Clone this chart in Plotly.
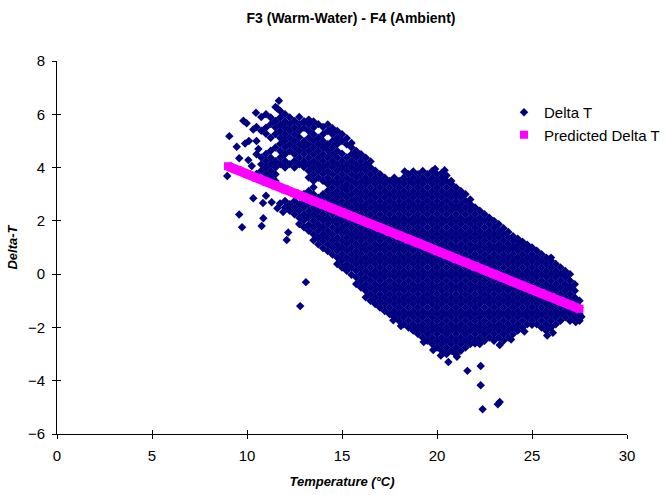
import plotly.graph_objects as go

# ---- Predicted Delta T (read along the magenta band) ----
pred_temp = [9.0, 9.5, 10.0, 10.5, 11.0, 11.5, 12.0, 12.5, 13.0, 13.5, 14.0, 14.5, 15.0, 15.5,
             16.0, 16.5, 17.0, 17.5, 18.0, 18.5, 19.0, 19.5, 20.0, 20.5, 21.0, 21.5, 22.0, 22.5,
             23.0, 23.5, 24.0, 24.5, 25.0, 25.5, 26.0, 26.5, 27.0, 27.5]
pred_delta = [4.05, 3.91, 3.76, 3.62, 3.47, 3.33, 3.18, 3.04, 2.89, 2.75, 2.61, 2.46, 2.32, 2.17,
              2.03, 1.88, 1.74, 1.59, 1.45, 1.30, 1.16, 1.02, 0.87, 0.73, 0.58, 0.44, 0.29, 0.15,
              0.00, -0.14, -0.29, -0.43, -0.57, -0.72, -0.86, -1.01, -1.15, -1.30]

# ---- Measured Delta T: dense cloud, estimated column by column (temperature, delta values) ----
cloud_cols = [
    (10.5, "3.76 4.5 5.0 5.52"),
    (10.75, "3.88 4.12 4.38 5.38 5.9"),
    (11.0, "3.75 4.0 4.25 4.51 5.27 5.5 6.0"),
    (11.25, "3.63 3.87 4.12 4.37 4.63 5.12 5.63 5.88"),
    (11.5, "3.5 3.75 4.0 4.24 4.75 5.26 5.5 5.75 6.27"),
    (11.75, "4.12 4.38 4.62 4.89 5.12 5.37 5.62 5.88 6.12"),
    (12.0, "2.5 2.75 4.0 4.25 4.5 4.76 5.0 5.25 5.5 5.74 6.0"),
    (12.25, "2.38 2.62 4.13 4.62 4.87 5.12 5.38 5.63 5.88"),
    (12.5, "2.25 2.5 2.75 4.0 4.25 4.5 4.75 5.0 5.25 5.5 5.75"),
    (12.75, "1.88 2.12 2.38 2.62 4.12 4.37 4.63 4.88 5.13 5.38 5.63 5.9"),
    (13.0, "1.76 2.02 2.24 2.51 2.74 3.01 4.02 4.24 4.51 4.76 4.99 5.49 5.74"),
    (13.25, "1.63 1.86 2.13 2.37 2.63 2.88 3.12 3.63 3.88 4.12 4.37 4.63 4.88 5.12 5.37 5.63 5.8"),
    (13.5, "1.27 1.5 1.76 2.0 2.25 2.49 2.75 3.0 3.26 3.5 3.75 4.0 4.24 4.5 4.75 5.01 5.25 5.5 5.73"),
    (13.75, "1.12 1.38 1.63 1.87 2.13 2.38 2.62 2.87 3.62 3.88 4.12 4.37 4.62 4.88 5.12 5.63"),
    (14.0, "0.98 1.25 1.5 1.75 2.01 2.25 2.5 2.75 3.0 3.5 3.76 4.0 4.25 4.49 4.75 5.0 5.25 5.52"),
    (14.25, "0.87 1.12 1.38 1.62 1.88 2.12 2.38 2.62 2.88 3.13 3.38 3.62 3.87 4.12 4.38 4.63 4.88 5.37 5.62"),
    (14.5, "0.74 1.0 1.25 1.5 1.75 2.0 2.26 2.5 2.75 3.0 3.25 3.49 3.75 4.0 4.25 4.5 4.75 5.0 5.25 5.48"),
    (14.75, "0.38 0.62 0.88 1.12 1.37 1.63 1.88 2.12 2.38 2.63 2.88 3.12 3.38 3.62 3.88 4.12 4.38 4.62 4.88 5.12 5.37"),
    (15.0, "0.25 0.5 0.75 1.0 1.25 1.51 1.75 2.0 2.25 2.5 2.75 3.0 3.25 3.5 3.75 4.0 4.25 4.52 5.0 5.25"),
    (15.25, "0.13 0.37 0.62 0.88 1.13 1.38 1.62 1.87 2.13 2.38 2.62 2.88 3.13 3.37 3.62 3.88 4.12 4.38 4.87 5.1"),
    (15.5, "-0.02 0.25 0.5 0.75 1.0 1.25 1.5 1.75 2.0 2.25 2.5 2.75 3.0 3.25 3.5 3.75 4.0 4.25 4.5 4.75 4.92"),
    (15.75, "-0.37 -0.12 0.13 0.38 0.62 0.87 1.12 1.38 1.62 1.88 2.12 2.38 2.62 2.87 3.12 3.38 3.63 3.88 4.12 4.38 4.62"),
    (16.0, "-0.5 -0.25 0.0 0.25 0.5 0.75 1.0 1.25 1.5 1.75 2.0 2.25 2.5 2.75 3.0 3.25 3.5 3.75 4.0 4.25 4.5"),
    (16.25, "-0.87 -0.62 -0.38 -0.13 0.12 0.38 0.62 0.88 1.12 1.38 1.62 1.88 2.12 2.38 2.62 2.88 3.12 3.38 3.62 3.88 4.12 4.37"),
    (16.5, "-1.0 -0.75 -0.5 -0.25 0.0 0.25 0.5 0.75 1.0 1.25 1.5 1.75 2.0 2.25 2.5 2.75 3.0 3.25 3.5 3.75 4.0 4.23"),
    (16.75, "-1.12 -0.88 -0.62 -0.38 -0.12 0.12 0.38 0.62 0.88 1.12 1.38 1.62 1.88 2.12 2.38 2.62 2.88 3.12 3.38 3.62 3.88"),
    (17.0, "-1.25 -1.0 -0.75 -0.5 -0.25 0.0 0.25 0.5 0.75 1.0 1.25 1.5 1.75 2.0 2.25 2.5 2.75 3.0 3.25 3.5 3.75"),
    (17.25, "-1.38 -1.12 -0.88 -0.62 -0.38 -0.12 0.12 0.38 0.62 0.88 1.12 1.38 1.62 1.88 2.12 2.38 2.62 2.88 3.12 3.38 3.62"),
    (17.5, "-1.5 -1.25 -1.0 -0.75 -0.5 -0.25 0.0 0.25 0.5 0.75 1.0 1.25 1.5 1.75 2.0 2.25 2.5 2.75 3.0 3.25 3.5"),
    (17.75, "-1.62 -1.38 -1.12 -0.88 -0.62 -0.38 -0.12 0.12 0.38 0.62 0.88 1.12 1.38 1.62 1.88 2.12 2.38 2.62 2.88 3.12 3.38 3.62"),
    (18.0, "-1.75 -1.5 -1.25 -1.0 -0.75 -0.5 -0.25 0.0 0.25 0.5 0.75 1.0 1.25 1.5 1.75 2.0 2.25 2.5 2.75 3.0 3.25 3.5"),
    (18.25, "-1.88 -1.62 -1.38 -1.12 -0.88 -0.62 -0.38 -0.12 0.12 0.38 0.62 0.88 1.12 1.38 1.62 1.88 2.12 2.38 2.62 2.88 3.12 3.38 3.62"),
    (18.5, "-2.0 -1.75 -1.5 -1.25 -1.0 -0.75 -0.5 -0.25 0.0 0.25 0.5 0.75 1.0 1.25 1.5 1.75 2.0 2.25 2.5 2.75 3.0 3.25 3.5 3.75"),
    (18.75, "-2.12 -1.88 -1.62 -1.38 -1.12 -0.88 -0.62 -0.38 -0.12 0.12 0.38 0.62 0.88 1.12 1.38 1.62 1.88 2.12 2.38 2.62 2.88 3.12 3.38 3.62 3.85"),
    (19.0, "-2.25 -2.0 -1.75 -1.5 -1.25 -1.0 -0.75 -0.5 -0.25 0.0 0.25 0.5 0.75 1.0 1.25 1.5 1.75 2.0 2.25 2.5 2.75 3.0 3.25 3.5 3.75"),
    (19.25, "-2.38 -2.12 -1.88 -1.62 -1.38 -1.12 -0.88 -0.62 -0.38 -0.12 0.12 0.38 0.62 0.88 1.12 1.38 1.62 1.88 2.12 2.38 2.62 2.88 3.12 3.38 3.62 3.87"),
    (19.5, "-2.5 -2.25 -2.0 -1.75 -1.5 -1.25 -1.0 -0.75 -0.5 -0.25 0.0 0.25 0.5 0.75 1.0 1.25 1.5 1.75 2.0 2.25 2.5 2.75 3.0 3.25 3.5 3.75"),
    (19.75, "-2.62 -2.38 -2.12 -1.88 -1.62 -1.38 -1.12 -0.88 -0.62 -0.38 -0.12 0.12 0.38 0.62 0.88 1.12 1.38 1.62 1.88 2.12 2.38 2.62 2.88 3.12 3.38 3.62 3.87"),
    (20.0, "-2.75 -2.5 -2.25 -2.0 -1.75 -1.5 -1.25 -1.0 -0.75 -0.5 -0.25 0.0 0.25 0.5 0.75 1.0 1.25 1.5 1.75 2.0 2.25 2.5 2.75 3.0 3.25 3.5 3.75"),
    (20.25, "-2.88 -2.62 -2.38 -2.12 -1.88 -1.62 -1.38 -1.12 -0.88 -0.62 -0.38 -0.12 0.12 0.38 0.62 0.88 1.12 1.38 1.62 1.88 2.12 2.38 2.62 2.88 3.12 3.38 3.62 3.8"),
    (20.5, "-3.0 -2.75 -2.5 -2.25 -2.0 -1.75 -1.5 -1.25 -1.0 -0.75 -0.5 -0.25 0.0 0.25 0.5 0.75 1.0 1.25 1.5 1.75 2.0 2.25 2.5 2.75 3.0 3.25 3.5 3.7"),
    (20.75, "-2.88 -2.62 -2.38 -2.12 -1.88 -1.62 -1.38 -1.12 -0.88 -0.62 -0.38 -0.12 0.12 0.38 0.62 0.88 1.12 1.38 1.62 1.88 2.12 2.38 2.62 2.88 3.12 3.38 3.5"),
    (21.0, "-3.0 -2.75 -2.5 -2.25 -2.0 -1.75 -1.5 -1.25 -1.0 -0.75 -0.5 -0.25 0.0 0.25 0.5 0.75 1.0 1.25 1.5 1.75 2.0 2.25 2.5 2.75 3.0 3.25"),
    (21.25, "-2.88 -2.62 -2.38 -2.12 -1.88 -1.62 -1.38 -1.12 -0.88 -0.62 -0.38 -0.12 0.12 0.38 0.62 0.88 1.12 1.38 1.62 1.88 2.12 2.38 2.62 2.88 3.12"),
    (21.5, "-2.75 -2.5 -2.25 -2.0 -1.75 -1.5 -1.25 -1.0 -0.75 -0.5 -0.25 0.0 0.25 0.5 0.75 1.0 1.25 1.5 1.75 2.0 2.25 2.5 2.75 3.0"),
    (21.75, "-2.62 -2.38 -2.12 -1.88 -1.62 -1.38 -1.12 -0.88 -0.62 -0.38 -0.12 0.12 0.38 0.62 0.88 1.12 1.38 1.62 1.88 2.12 2.38 2.62 2.8"),
    (22.0, "-2.6 -2.5 -2.25 -2.0 -1.75 -1.5 -1.25 -1.0 -0.75 -0.5 -0.25 0.0 0.25 0.5 0.75 1.0 1.25 1.5 1.75 2.0 2.25 2.5"),
    (22.25, "-2.62 -2.38 -2.12 -1.88 -1.62 -1.38 -1.12 -0.88 -0.62 -0.38 -0.12 0.12 0.38 0.62 0.88 1.12 1.38 1.62 1.88 2.12 2.38"),
    (22.5, "-2.5 -2.25 -2.0 -1.75 -1.5 -1.25 -1.0 -0.75 -0.5 -0.25 0.0 0.25 0.5 0.75 1.0 1.25 1.5 1.75 2.0 2.25"),
    (22.75, "-2.38 -2.12 -1.88 -1.62 -1.38 -1.12 -0.88 -0.62 -0.38 -0.12 0.12 0.38 0.62 0.88 1.12 1.38 1.62 1.88 2.12"),
    (23.0, "-2.5 -2.25 -2.0 -1.75 -1.5 -1.25 -1.0 -0.75 -0.5 -0.25 0.0 0.25 0.5 0.75 1.0 1.25 1.5 1.75 2.0"),
    (23.25, "-2.38 -2.12 -1.88 -1.62 -1.38 -1.12 -0.88 -0.62 -0.38 -0.12 0.12 0.38 0.62 0.88 1.12 1.38 1.62 1.87"),
    (23.5, "-2.5 -2.25 -2.0 -1.75 -1.5 -1.25 -1.0 -0.75 -0.5 -0.25 0.0 0.25 0.5 0.75 1.0 1.25 1.5 1.72"),
    (23.75, "-2.38 -2.12 -1.88 -1.62 -1.38 -1.12 -0.88 -0.62 -0.38 -0.12 0.12 0.38 0.62 0.88 1.12 1.38 1.58"),
    (24.0, "-2.25 -2.0 -1.75 -1.5 -1.25 -1.0 -0.75 -0.5 -0.25 0.0 0.25 0.5 0.75 1.0 1.25 1.42"),
    (24.25, "-2.12 -1.88 -1.62 -1.38 -1.12 -0.88 -0.62 -0.38 -0.12 0.12 0.38 0.62 0.88 1.12 1.33"),
    (24.5, "-2.0 -1.75 -1.5 -1.25 -1.0 -0.75 -0.5 -0.25 0.0 0.25 0.5 0.75 1.0 1.22"),
    (24.75, "-1.88 -1.62 -1.38 -1.12 -0.88 -0.62 -0.38 -0.12 0.12 0.38 0.62 0.88 1.1"),
    (25.0, "-1.9 -1.75 -1.5 -1.25 -1.0 -0.75 -0.5 -0.25 0.0 0.25 0.5 0.75 1.0"),
    (25.25, "-1.88 -1.62 -1.38 -1.12 -0.88 -0.62 -0.38 -0.12 0.12 0.38 0.62 0.88"),
    (25.5, "-2.0 -1.75 -1.5 -1.25 -1.0 -0.75 -0.5 -0.25 0.0 0.25 0.5 0.75"),
    (25.75, "-2.12 -1.88 -1.62 -1.38 -1.12 -0.88 -0.62 -0.38 -0.12 0.12 0.38 0.62"),
    (26.0, "-2.0 -1.75 -1.5 -1.25 -1.0 -0.75 -0.5 -0.25 0.0 0.25 0.5 0.62"),
    (26.25, "-1.88 -1.62 -1.38 -1.12 -0.88 -0.62 -0.38 -0.12 0.12 0.38"),
    (26.5, "-1.75 -1.5 -1.25 -1.0 -0.75 -0.5 -0.25 0.0 0.25"),
    (26.75, "-1.62 -1.38 -1.12 -0.88 -0.62 -0.38 -0.12 0.12"),
    (27.0, "-1.75 -1.5 -1.25 -1.0 -0.75 -0.5 -0.25 0.0"),
    (27.25, "-1.62 -1.38 -1.12 -0.88 -0.62 -0.38"),
    (27.5, "-1.75 -1.5 -1.25 -1.0"),
]

# ---- Measured Delta T: scattered outlying points ----
sparse_temp = [8.96, 9.07, 9.46, 9.59, 9.81, 9.98, 10.07, 10.25, 10.33, 10.47, 11.6, 11.68,
               9.59, 9.74, 10.33, 10.77, 10.86, 10.84, 11.0, 11.3, 11.6, 11.74, 11.9, 12.09, 12.17,
               12.8, 13.1, 17.7, 18.1, 18.85, 19.3, 19.8, 20.2, 20.6, 20.95, 21.05, 21.6,
               22.3, 22.3, 22.4, 23.2, 23.3, 23.3, 23.9, 24.6, 25.8, 26.1,
               27.3, 27.6, 27.55, 18.3, 19.9, 20.4, 10.6, 10.1, 9.9]
sparse_delta = [3.68, 5.18, 4.78, 4.35, 5.76, 5.66, 4.28, 4.06, 5.43, 6.06, 6.22, 6.51,
                2.24, 1.76, 2.85, 1.81, 2.1, 2.67, 2.94, 2.7, 2.47, 2.65, 2.33, 1.28, 1.56,
                -1.2, -0.3, -1.73, -1.95, -2.1, -2.55, -2.85, -3.05, -3.3, -2.97, -3.1, -3.63,
                -3.45, -4.17, -5.07, -4.88, -4.8, -2.66, -2.45, -2.15, -2.3, -2.2,
                -1.8, -1.6, -1.62, 3.85, 3.95, 3.9, 4.7, 5.0, 4.9]

x_ticks = [0, 5, 10, 15, 20, 25, 30]
y_ticks = [-6, -4, -2, 0, 2, 4, 6, 8]

obs_temp, obs_delta = [], []
for t, ys in cloud_cols:
    for v in ys.split():
        obs_temp.append(t)
        obs_delta.append(float(v))
obs_temp += sparse_temp
obs_delta += sparse_delta

FONT = "Arial, 'Liberation Sans', sans-serif"
NAVY = "#000080"
MAGENTA = "#FF00FF"

fig = go.Figure()
fig.add_trace(go.Scatter(
    x=obs_temp, y=obs_delta, mode="markers", name="Delta T",
    marker=dict(symbol="diamond", size=6.5, color=NAVY, line=dict(width=0)),
))
fig.add_trace(go.Scatter(
    x=pred_temp, y=pred_delta, mode="lines", showlegend=False,
    line=dict(color=MAGENTA, width=9.5),
))
fig.add_trace(go.Scatter(
    x=pred_temp, y=pred_delta, mode="markers", name="Predicted Delta T",
    marker=dict(symbol="square", size=8, color=MAGENTA, line=dict(width=0)),
))
# carrier trace for the overlay axes that draw the inner half of the cross ticks
fig.add_trace(go.Scatter(x=[], y=[], xaxis="x2", yaxis="y2", showlegend=False, hoverinfo="skip"))

axis_common = dict(showgrid=False, zeroline=False, showline=True, linecolor="black", linewidth=1,
                   ticks="outside", ticklen=4, tickcolor="black", tickwidth=1,
                   tickfont=dict(family=FONT, size=15, color="black"))

fig.update_layout(
    width=666, height=495,
    margin=dict(l=57, r=39, t=61, b=61, autoexpand=False),
    paper_bgcolor="white", plot_bgcolor="white",
    font=dict(family=FONT, size=14, color="black"),
    title=dict(text="<b>F3 (Warm-Water) - F4 (Ambient)</b>", x=351 / 666, xanchor="center",
               y=1 - 18 / 495, yanchor="middle", font=dict(family=FONT, size=14, color="black")),
    xaxis=dict(range=[0, 30], tickvals=x_ticks, ticklabelstandoff=4,
               title=dict(text="<b><i>Temperature (°C)</i></b>", font=dict(family=FONT, size=13), standoff=13),
               **axis_common),
    yaxis=dict(range=[-6, 8], tickvals=y_ticks, ticklabelstandoff=4,
               title=dict(text="<b><i>Delta-T</i></b>", font=dict(family=FONT, size=13), standoff=7),
               **axis_common),
    xaxis2=dict(range=[0, 30], tickvals=x_ticks, overlaying="x", anchor="y2", side="bottom",
                showgrid=False, zeroline=False, showline=False, showticklabels=False,
                ticks="inside", ticklen=4, tickcolor="black", tickwidth=1),
    yaxis2=dict(range=[-6, 8], tickvals=y_ticks, overlaying="y", anchor="x2", side="left",
                showgrid=False, zeroline=False, showline=False, showticklabels=False,
                ticks="inside", ticklen=4, tickcolor="black", tickwidth=1),
    legend=dict(xref="container", yref="container", x=504 / 666, y=1 - 96 / 495,
                xanchor="left", yanchor="top", bgcolor="rgba(0,0,0,0)",
                font=dict(family=FONT, size=15, color="black"), itemwidth=30, tracegroupgap=0),
    showlegend=True,
)

fig.write_html("out.html")
